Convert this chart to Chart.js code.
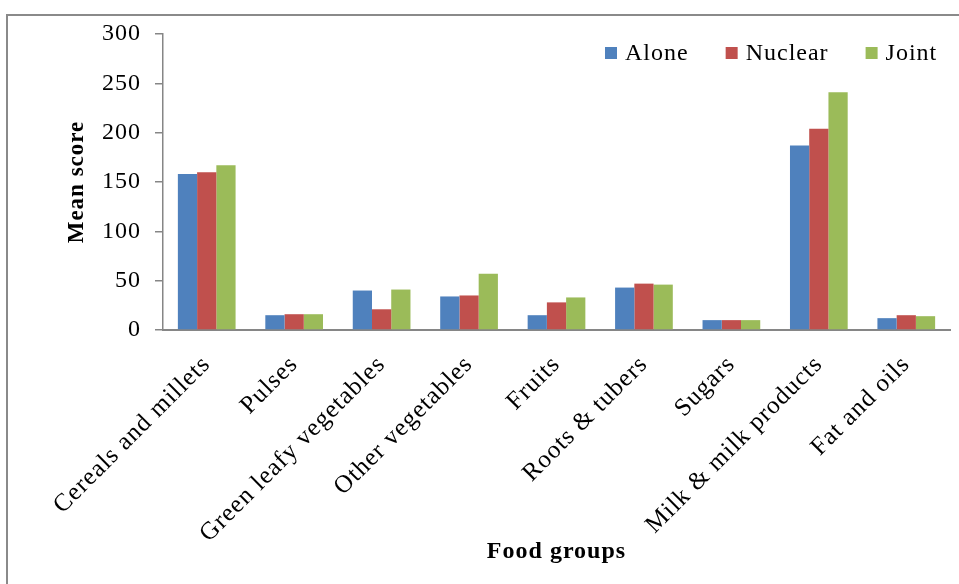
<!DOCTYPE html>
<html>
<head>
<meta charset="utf-8">
<script src="https://cdn.jsdelivr.net/npm/chart.js@4/dist/chart.umd.min.js"></script>
<style>
    body { margin: 0; background: #fff; }
    #frame {
        position: absolute; left: 6px; top: 14px;
        width: 980px; height: 600px;
        border: 2px solid #8a8a8a;
    }
    #wrap { position: absolute; left: 0; top: 0; width: 959px; height: 584px; }
</style>
</head>
<body>
<div id="frame"></div>
<div id="wrap"><canvas id="foodChart" width="959" height="584"></canvas></div>
<script>
const foodGroups = ['Cereals and millets', 'Pulses', 'Green leafy vegetables', 'Other vegetables', 'Fruits', 'Roots & tubers', 'Sugars', 'Milk & milk products', 'Fat and oils'];
const alone   = [158, 15, 40, 34, 15, 43, 10, 187, 12];
const nuclear = [160, 16, 21, 35, 28, 47, 10, 204, 15];
const joint   = [167, 16, 41, 57, 33, 46, 10, 241, 14];
const yTicks  = [0, 50, 100, 150, 200, 250, 300];

const serif = "'Liberation Serif', 'Times New Roman', serif";

// the excel text is a bit spread out, so add some letter spacing
const spacing = {
    id: 'spacing',
    beforeUpdate(chart) { chart.ctx.letterSpacing = '1px'; },
    beforeDraw(chart) { chart.ctx.letterSpacing = '1px'; }
};

// legend drawn in the top right of the plot, like the excel one
const insideLegend = {
    id: 'insideLegend',
    afterDraw(chart) {
        const ctx = chart.ctx;
        let x = 605;
        const y = 53;
        ctx.save();
        ctx.font = '24px ' + serif;
        ctx.textBaseline = 'middle';
        chart.data.datasets.forEach(function(ds) {
            ctx.fillStyle = ds.backgroundColor;
            ctx.fillRect(x, y - 6, 12, 12);
            ctx.fillStyle = '#000';
            ctx.fillText(ds.label, x + 20, y + 1);
            x += 20 + ctx.measureText(ds.label).width + 37;
        });
        ctx.restore();
    }
};

new Chart(document.getElementById('foodChart'), {
    type: 'bar',
    data: {
        labels: foodGroups,
        datasets: [
            { label: 'Alone', data: alone, backgroundColor: '#4F81BD' },
            { label: 'Nuclear', data: nuclear, backgroundColor: '#C0504D' },
            { label: 'Joint', data: joint, backgroundColor: '#9BBB59' }
        ]
    },
    options: {
        responsive: false,
        animation: false,
        categoryPercentage: 0.66,
        barPercentage: 1,
        layout: { padding: { top: 34, right: 9, left: 0, bottom: 0 } },
        plugins: {
            legend: { display: false },
            tooltip: { enabled: false }
        },
        scales: {
            x: {
                grid: { display: false },
                border: { display: true, color: '#868686', width: 2 },
                ticks: {
                    color: '#000',
                    font: { family: serif, size: 25 },
                    minRotation: 45,
                    maxRotation: 45,
                    padding: 12
                },
                title: {
                    display: true,
                    text: 'Food groups',
                    color: '#000',
                    font: { family: serif, size: 24, weight: 'bold' },
                    padding: { top: 0, bottom: 18 }
                },
                afterFit(scale) { scale.height = 254; }
            },
            y: {
                min: 0,
                max: 300,
                afterBuildTicks(scale) { scale.ticks = yTicks.map(v => ({ value: v })); },
                grid: { drawOnChartArea: false, drawTicks: true, tickLength: 8, color: '#868686', lineWidth: 1.5 },
                border: { display: true, color: '#868686', width: 1.5 },
                ticks: {
                    color: '#000',
                    font: { family: serif, size: 24 },
                    padding: 14
                },
                title: {
                    display: true,
                    text: 'Mean score',
                    color: '#000',
                    font: { family: serif, size: 23, weight: 'bold' },
                    padding: { top: 63, bottom: 0 }
                },
                afterFit(scale) { scale.width = 163; }
            }
        }
    },
    plugins: [spacing, insideLegend]
});
</script>
</body>
</html>
